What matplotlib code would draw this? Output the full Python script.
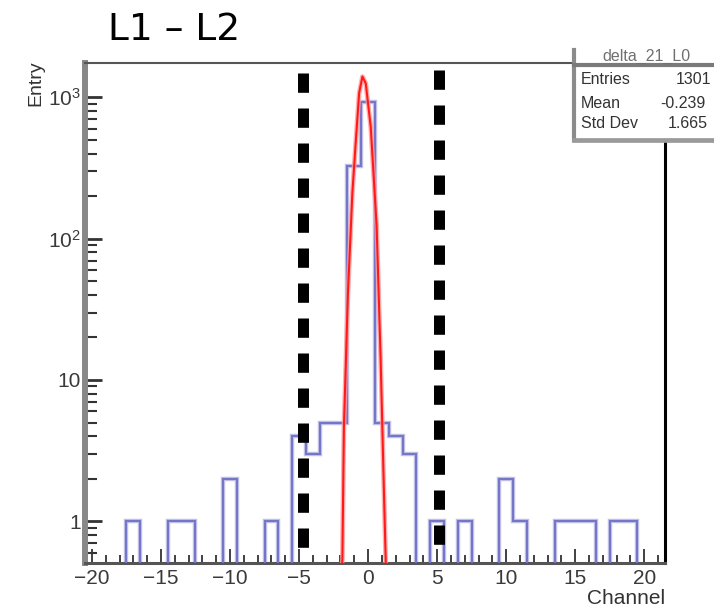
import numpy as np
import matplotlib
matplotlib.use("Agg")
import matplotlib.pyplot as plt
from matplotlib.patches import Rectangle
from matplotlib.lines import Line2D
from matplotlib.ticker import FixedLocator, MultipleLocator, LogLocator, NullFormatter
import matplotlib.transforms as mtransforms


# ==========================================================
# DATA
# ==========================================================

# channel difference L1 - L2, one bin per integer channel
channels = np.arange(-20, 22)
counts = [
    0, 0, 0, 1, 0, 0, 1, 1, 0, 0,       # -20 .. -11
    2, 0, 0, 1, 0, 4, 3, 5, 5, 327,     # -10 .. -1
    920, 5, 4, 3, 0, 1, 0, 1, 0, 0,     #   0 .. 9
    2, 1, 0, 0, 1, 1, 1, 0, 1, 1,       #  10 .. 19
    0, 0,                               #  20 .. 21
]

# gaussian fit, sampled along the drawn polyline
fit_x = [-2.10, -1.86, -1.75, -1.46, -1.14, -0.90, -0.65, -0.41,
         -0.17, 0.19, 0.62, 0.91, 1.15, 1.27, 1.40]
fit_y = [0.12, 0.56, 4.7, 41, 210, 473, 1070, 1403,
         1256, 620, 122, 13.8, 1.58, 0.56, 0.12]

# selection window
cut_lo = -4.75
cut_hi = 5.15

stats_title = "delta_21_L0"
stats_names = ["Entries", "Mean", "Std Dev"]
stats_values = ["1301", "-0.239", "1.665"]

y_ticks = [1, 10, 100, 1000]
y_labels = ["1", "10", r"$\mathregular{10^{2}}$", r"$\mathregular{10^{3}}$"]


# ==========================================================
# FIGURE
# ==========================================================

W, H = 714, 611
plt.rcParams["font.family"] = ["Liberation Sans", "DejaVu Sans"]
plt.rcParams["lines.scale_dashes"] = False

fig = plt.figure(figsize=(W / 100, H / 100), dpi=100)
fig.patch.set_facecolor("white")


def fx(px):
    return px / W


def fy(py):
    return 1 - py / H


left, right, top, bottom = 85, 665, 62.7, 563
ax = fig.add_axes([fx(left), fy(bottom), fx(right - left), (bottom - top) / H])

# histogram outline, empty bins drop below the axis
edges = np.append(channels - 0.5, channels[-1] + 0.5)
draw_counts = np.where(np.array(counts) > 0, counts, 1e-2)
ax.stairs(draw_counts, edges, baseline=None, color="#c2c2e8", lw=3.2, zorder=2)
ax.stairs(draw_counts, edges, baseline=None, color="#7676c8", lw=1.5, zorder=3)

# fit curve
ax.plot(fit_x, fit_y, color="#ff9a9a", lw=3.4, alpha=0.8, zorder=4)
ax.plot(fit_x, fit_y, color="#ff1a1a", lw=1.5, zorder=5)

ax.set_yscale("log")
ax.set_xlim(-20.5, 21.5)
ax.set_ylim(0.507, 1758)

# dashed cut lines
trans = mtransforms.blended_transform_factory(ax.transData, ax.transAxes)
for xc, ytop in [(cut_lo, 0.979), (cut_hi, 0.986)]:
    ax.add_line(Line2D([xc, xc], [ytop, 0.015], transform=trans, color="black",
                       lw=7.9, dashes=(13.9, 11.3), solid_capstyle="butt",
                       dash_capstyle="butt", zorder=6))

# axes styling
ax.xaxis.set_major_locator(MultipleLocator(5))
ax.xaxis.set_minor_locator(MultipleLocator(1))
ax.yaxis.set_major_locator(FixedLocator(y_ticks))
ax.set_yticklabels(y_labels)
ax.yaxis.set_minor_locator(LogLocator(base=10, subs=np.arange(2, 10)))
ax.yaxis.set_minor_formatter(NullFormatter())

ax.tick_params(axis="both", which="both", direction="in", colors="#333333",
               labelcolor="#3a3a3a", labelsize=15)
ax.tick_params(axis="x", which="major", length=10, width=1.3, pad=4)
ax.tick_params(axis="x", which="minor", length=6, width=1.3)
ax.tick_params(axis="y", which="major", length=12.5, width=2, pad=3)
ax.tick_params(axis="y", which="minor", length=8.4, width=1.5)

ax.spines["left"].set_color("#888888")
ax.spines["left"].set_linewidth(4.3)
ax.spines["bottom"].set_color("#555555")
ax.spines["bottom"].set_linewidth(2.2)
ax.spines["top"].set_color("#555555")
ax.spines["top"].set_linewidth(1.5)
ax.spines["right"].set_color("black")
ax.spines["right"].set_linewidth(2.2)

fig.text(fx(665), fy(598), "Channel", ha="right", va="center", fontsize=15, color="#333333")
fig.text(fx(36), fy(60), "Entry", ha="center", va="top", rotation=90, fontsize=14, color="#333333")

# title
fig.text(fx(108), fy(40), "L1 \u2013 L2", family="DejaVu Sans", fontsize=27,
         va="baseline", ha="left", color="black")

# ==========================================================
# STATS BOX
# ==========================================================

box_l, box_t, box_b = 574, 50, 140
fig.add_artist(Rectangle((fx(box_l), fy(box_b)), fx(W + 20 - box_l), (box_b - box_t) / H,
                         transform=fig.transFigure, facecolor="white", edgecolor="none",
                         zorder=10))
fig.add_artist(Line2D([fx(box_l), fx(box_l)], [fy(box_t), fy(box_b)], transform=fig.transFigure,
                      color="#8a8a8a", lw=3, zorder=11))
fig.add_artist(Line2D([fx(box_l), fx(W + 5)], [fy(box_b), fy(box_b)], transform=fig.transFigure,
                      color="#9a9a9a", lw=3.4, zorder=11))
fig.add_artist(Line2D([fx(box_l), fx(W + 5)], [fy(65), fy(65)], transform=fig.transFigure,
                      color="#7a7a7a", lw=3, zorder=11))

fig.text(fx(646), fy(56), stats_title, ha="center", va="center", fontsize=11.5,
         color="#707070", zorder=12)
row_y = [79.3, 103.3, 123.3]
value_x = [(711, "right"), (660, "left"), (668, "left")]
for name, val, yy, (vx, vha) in zip(stats_names, stats_values, row_y, value_x):
    fig.text(fx(581), fy(yy), name, ha="left", va="center", fontsize=11.5,
             color="#333333", zorder=12)
    fig.text(fx(vx), fy(yy), val, ha=vha, va="center", fontsize=11.5,
             color="#333333", zorder=12)

fig.savefig("out.png", dpi=100)
